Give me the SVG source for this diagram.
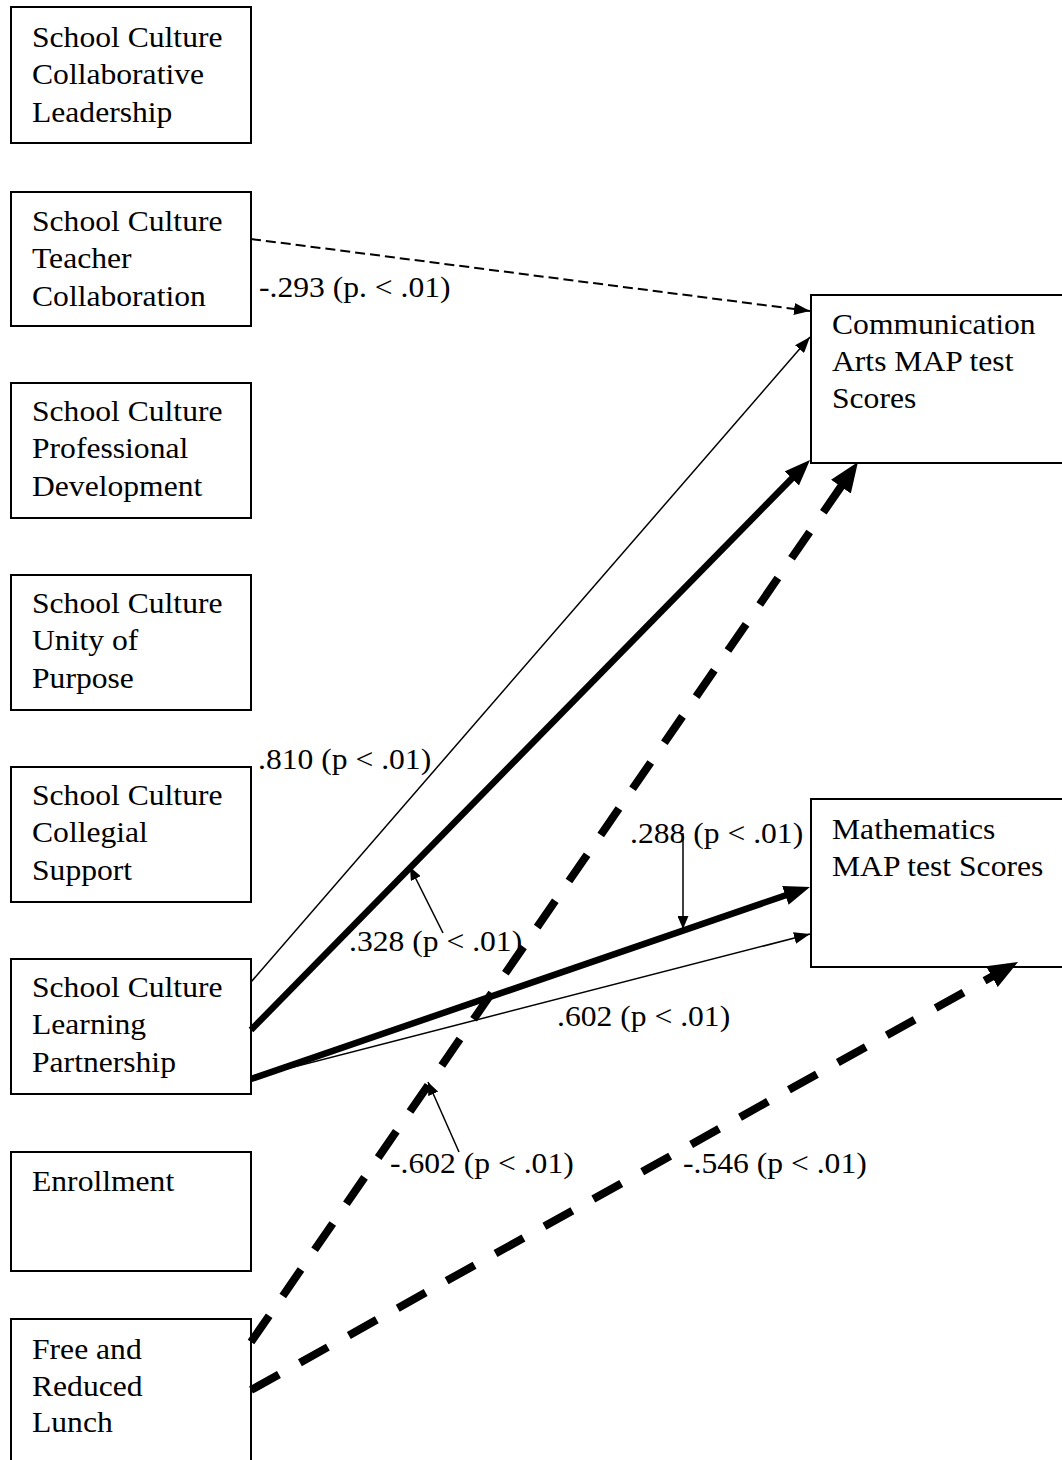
<svg xmlns="http://www.w3.org/2000/svg" width="1062" height="1460" viewBox="0 0 1062 1460">
  <style>
    .box { fill: #fff; stroke: #000; stroke-width: 2; }
    .t { font-family: "Liberation Serif", "Times New Roman", serif; font-size: 29px; fill: #000; }
    .thin { fill: none; stroke: #000; stroke-width: 1.5; }
    .thin-dash { fill: none; stroke: #000; stroke-width: 2; stroke-dasharray: 10 5; }
    .bold { fill: none; stroke: #000; stroke-width: 6.5; }
    .bold-dash { fill: none; stroke: #000; stroke-width: 8; stroke-dasharray: 32 24; }
  </style>
  <defs>
    <marker id="head-thin" markerUnits="userSpaceOnUse" markerWidth="16" markerHeight="12" viewBox="0 0 16 12" refX="16" refY="6" orient="auto">
      <path d="M0,0 L16,6 L0,12 z" fill="#000"/>
    </marker>
    <marker id="head-callout" markerUnits="userSpaceOnUse" markerWidth="13" markerHeight="11" viewBox="0 0 13 11" refX="13" refY="5.5" orient="auto">
      <path d="M0,0 L13,5.5 L0,11 z" fill="#000"/>
    </marker>
    <marker id="head-bold" markerUnits="userSpaceOnUse" markerWidth="26" markerHeight="20" viewBox="0 0 26 20" refX="16" refY="10" orient="auto">
      <path d="M0,0 L26,10 L0,20 z" fill="#000"/>
    </marker>
    <marker id="head-dash" markerUnits="userSpaceOnUse" markerWidth="30" markerHeight="24" viewBox="0 0 30 24" refX="20" refY="12" orient="auto">
      <path d="M0,0 L30,12 L0,24 z" fill="#000"/>
    </marker>
  </defs>

  <!-- predictor boxes -->
  <g id="collaborative-leadership">
    <rect class="box" x="11" y="7" width="240" height="136"/>
    <text class="t" transform="translate(32,47) scale(1.09,1)"><tspan x="0" y="0">School Culture</tspan><tspan x="0" y="37.5">Collaborative</tspan><tspan x="0" y="75">Leadership</tspan></text>
  </g>
  <g id="teacher-collaboration">
    <rect class="box" x="11" y="192" width="240" height="134"/>
    <text class="t" transform="translate(32,231) scale(1.09,1)"><tspan x="0" y="0">School Culture</tspan><tspan x="0" y="37.5">Teacher</tspan><tspan x="0" y="75">Collaboration</tspan></text>
  </g>
  <g id="professional-development">
    <rect class="box" x="11" y="383" width="240" height="135"/>
    <text class="t" transform="translate(32,421) scale(1.09,1)"><tspan x="0" y="0">School Culture</tspan><tspan x="0" y="37.5">Professional</tspan><tspan x="0" y="75">Development</tspan></text>
  </g>
  <g id="unity-of-purpose">
    <rect class="box" x="11" y="575" width="240" height="135"/>
    <text class="t" transform="translate(32,613) scale(1.09,1)"><tspan x="0" y="0">School Culture</tspan><tspan x="0" y="37.5">Unity of</tspan><tspan x="0" y="75">Purpose</tspan></text>
  </g>
  <g id="collegial-support">
    <rect class="box" x="11" y="767" width="240" height="135"/>
    <text class="t" transform="translate(32,805) scale(1.09,1)"><tspan x="0" y="0">School Culture</tspan><tspan x="0" y="37.5">Collegial</tspan><tspan x="0" y="75">Support</tspan></text>
  </g>
  <g id="learning-partnership">
    <rect class="box" x="11" y="959" width="240" height="135"/>
    <text class="t" transform="translate(32,997) scale(1.09,1)"><tspan x="0" y="0">School Culture</tspan><tspan x="0" y="37.5">Learning</tspan><tspan x="0" y="75">Partnership</tspan></text>
  </g>
  <g id="enrollment">
    <rect class="box" x="11" y="1152" width="240" height="119"/>
    <text class="t" transform="translate(32,1191) scale(1.09,1)">Enrollment</text>
  </g>
  <g id="free-reduced-lunch">
    <rect class="box" x="11" y="1319" width="240" height="160"/>
    <text class="t" transform="translate(32,1359) scale(1.09,1)"><tspan x="0" y="0">Free and</tspan><tspan x="0" y="37">Reduced</tspan><tspan x="0" y="73">Lunch</tspan></text>
  </g>

  <!-- outcome boxes -->
  <g id="communication-arts">
    <rect class="box" x="811" y="295" width="270" height="168"/>
    <text class="t" transform="translate(832,334) scale(1.09,1)"><tspan x="0" y="0">Communication</tspan><tspan x="0" y="37.5">Arts MAP test</tspan><tspan x="0" y="74">Scores</tspan></text>
  </g>
  <g id="mathematics">
    <rect class="box" x="811" y="799" width="270" height="168"/>
    <text class="t" transform="translate(832,839) scale(1.09,1)"><tspan x="0" y="0">Mathematics</tspan><tspan x="0" y="37.5">MAP test Scores</tspan></text>
  </g>

  <!-- paths and their coefficients -->
  <g id="connectors">
    <line class="thin-dash" x1="251" y1="239" x2="810" y2="311" marker-end="url(#head-thin)"/>
    <line class="thin" x1="251" y1="982" x2="810" y2="337" marker-end="url(#head-thin)"/>
    <line class="bold" x1="251" y1="1030" x2="803" y2="467.1" marker-end="url(#head-bold)"/>
    <line class="bold" x1="251" y1="1079" x2="800.5" y2="890.2" marker-end="url(#head-bold)"/>
    <line class="thin" x1="251" y1="1078" x2="810" y2="934" marker-end="url(#head-thin)"/>
    <line class="bold-dash" x1="251" y1="1342" x2="852.3" y2="470.2" marker-end="url(#head-dash)"/>
    <line class="bold-dash" x1="251" y1="1390" x2="1009.3" y2="966.9" marker-end="url(#head-dash)"/>

    <line class="thin" x1="443" y1="933" x2="410" y2="867" marker-end="url(#head-callout)"/>
    <line class="thin" x1="683" y1="833" x2="683" y2="929" marker-end="url(#head-callout)"/>
    <line class="thin" x1="459" y1="1152" x2="428" y2="1082" marker-end="url(#head-callout)"/>

    <text class="t" transform="translate(259,297) scale(1.09,1)">-.293 (p. &lt; .01)</text>
    <text class="t" transform="translate(258,769) scale(1.09,1)">.810 (p &lt; .01)</text>
    <text class="t" transform="translate(349,951) scale(1.09,1)">.328 (p &lt; .01)</text>
    <text class="t" transform="translate(630,843) scale(1.09,1)">.288 (p &lt; .01)</text>
    <text class="t" transform="translate(557,1026) scale(1.09,1)">.602 (p &lt; .01)</text>
    <text class="t" transform="translate(390,1173) scale(1.09,1)">-.602 (p &lt; .01)</text>
    <text class="t" transform="translate(683,1173) scale(1.09,1)">-.546 (p &lt; .01)</text>
  </g>
</svg>
